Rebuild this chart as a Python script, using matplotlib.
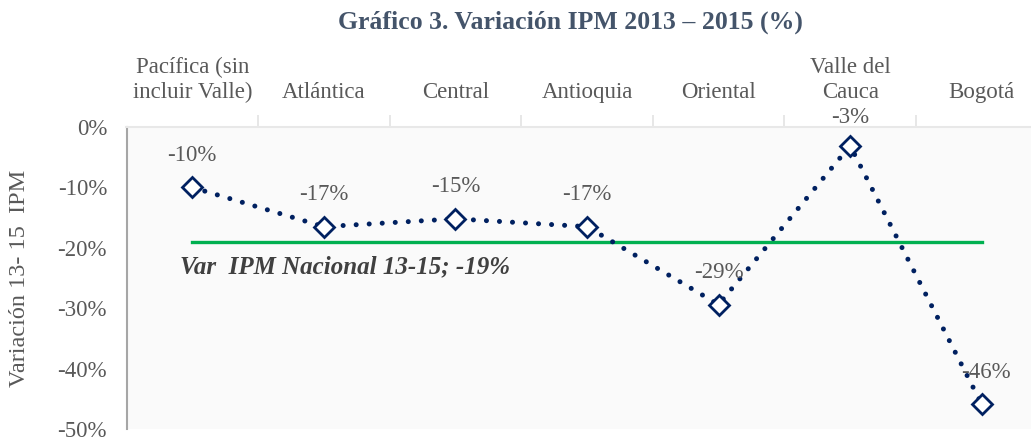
import numpy as np
import matplotlib
matplotlib.use("Agg")
import matplotlib.pyplot as plt
from matplotlib.ticker import FixedLocator, FuncFormatter

# Data
regiones = ["Pacífica (sin\nincluir Valle)", "Atlántica", "Central", "Antioquia",
            "Oriental", "Valle del\nCauca", "Bogotá"]
variacion = [-10, -16.5, -15.2, -16.5, -29.4, -3.1, -45.9]
etiquetas = ["-10%", "-17%", "-15%", "-17%", "-29%", "-3%", "-46%"]
nacional = -19

plt.rcParams["font.family"] = ["Liberation Serif", "DejaVu Serif"]
gris = "#595959"
azul = "#002060"

fig = plt.figure(figsize=(10.31, 4.41), dpi=100)
W, H = 1031, 441
ax = fig.add_axes([126.5 / W, 12 / H, (W - 126.5) / W, 302 / H])
ax.set_facecolor("#FAFAFA")

x = np.arange(len(regiones))
ax.plot(x, variacion, color=azul, lw=3.6, linestyle=(0, (0.01, 2.6)),
        dash_capstyle="round", zorder=3)
ax.plot(x, variacion, linestyle="none", marker="D", markersize=10,
        markerfacecolor="white", markeredgecolor=azul, markeredgewidth=2, zorder=4)

ax.plot([x[0], x[-1]], [nacional, nacional], color="#00B050", lw=2.4, zorder=2)
ax.text(-0.09, -23.2, "Var  IPM Nacional 13-15; -19%", fontsize=18, fontweight="bold",
        fontstyle="italic", color="#404040", va="center", ha="left")

# data labels
offsets = [(0, 23), (0, 23), (0, 23), (0, 23), (0, 23), (0, 20), (3, 23)]
for xi, yi, lab, off in zip(x, variacion, etiquetas, offsets):
    ax.annotate(lab, (xi, yi), xytext=off, textcoords="offset points",
                ha="center", va="center", fontsize=16.5, color=gris)

ax.set_xlim(-0.5, 6.5 - 16.5 / 131.5)
ax.set_ylim(-50, 0)
ax.set_yticks(np.arange(-50, 1, 10))
ax.yaxis.set_major_formatter(FuncFormatter(lambda v, p: f"{v:.0f}%"))
ax.tick_params(axis="y", length=0, labelsize=16.5, labelcolor=gris, pad=14)

ax.xaxis.tick_top()
ax.set_xticks(x)
ax.set_xticklabels(regiones, linespacing=1.25)
ax.xaxis.set_minor_locator(FixedLocator(np.arange(0.5, 6, 1)))
ax.tick_params(axis="x", which="major", length=0, labelsize=16.5, labelcolor=gris, pad=17)
ax.tick_params(axis="x", which="minor", length=9, color="#E3E3E3", width=1.2)

for s in ["right", "bottom"]:
    ax.spines[s].set_visible(False)
ax.spines["top"].set_color("#E8E8E8")
ax.spines["top"].set_linewidth(1.5)
ax.spines["left"].set_color("#A6A6A6")
ax.spines["left"].set_linewidth(1.5)

ax.set_ylabel("Variación 13- 15  IPM", fontsize=17.5, color=gris, labelpad=20)
fig.text(570 / W, 1 - 22 / H, "Gráfico 3. Variación IPM 2013 – 2015 (%)", ha="center",
         va="center", fontsize=18.5, fontweight="bold", color="#44546A")

fig.savefig("out.png", dpi=100)
